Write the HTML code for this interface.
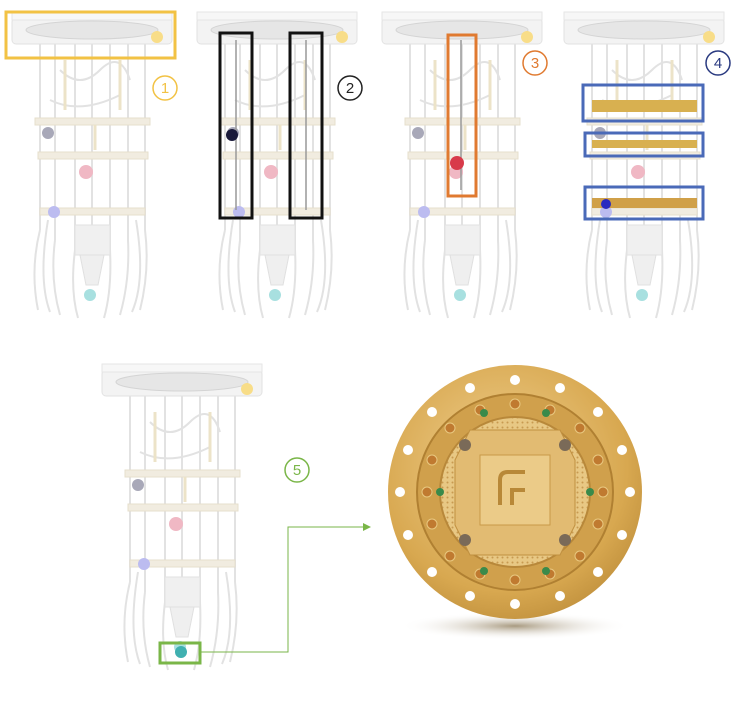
<!DOCTYPE html>
<html><head><meta charset="utf-8"><style>
html,body{margin:0;padding:0;background:#fff;}
svg{display:block;font-family:"Liberation Sans",sans-serif;}
</style></head><body>
<svg width="738" height="710" viewBox="0 0 738 710" xmlns="http://www.w3.org/2000/svg">
<defs>
<g id="cryo">
  <rect x="12" y="18" width="160" height="26" rx="4" fill="#f3f3f3" stroke="#e2e2e2"/>
  <ellipse cx="92" cy="30" rx="66" ry="9" fill="#e6e6e6" stroke="#d4d4d4"/>
  <rect x="12" y="12" width="160" height="8" fill="#f7f7f7" stroke="#e6e6e6"/>
  <g stroke="#e2e2e2" stroke-width="2" fill="none">
    <line x1="40" y1="44" x2="40" y2="230"/><line x1="55" y1="44" x2="55" y2="240"/>
    <line x1="75" y1="44" x2="75" y2="250"/><line x1="92" y1="44" x2="92" y2="260"/>
    <line x1="110" y1="44" x2="110" y2="250"/><line x1="128" y1="44" x2="128" y2="240"/>
    <line x1="145" y1="44" x2="145" y2="230"/>
    <path d="M40 230 Q30 270 38 310"/><path d="M55 240 Q50 280 60 315"/>
    <path d="M145 230 Q150 270 140 310"/><path d="M128 240 Q130 280 120 315"/>
    <path d="M75 250 Q70 290 78 318"/><path d="M110 250 Q112 290 104 318"/>
    <path d="M48 220 Q38 280 50 312"/><path d="M136 220 Q146 280 132 312"/>
    <path d="M60 70 q20 20 40 0 q20 -20 30 10"/><path d="M50 100 q30 15 70 -5"/>
  </g>
  <g fill="#f1ece0" stroke="#e6dfcc">
    <rect x="35" y="118" width="115" height="7"/>
    <rect x="38" y="152" width="110" height="7"/>
    <rect x="40" y="208" width="105" height="7"/>
  </g>
  <rect x="75" y="225" width="35" height="30" fill="#f0f0f0" stroke="#e2e2e2"/>
  <path d="M80 255 L104 255 L98 285 L86 285 Z" fill="#efefef" stroke="#e0e0e0"/>
  <g stroke="#ece3c8" stroke-width="3"><line x1="65" y1="60" x2="65" y2="110"/><line x1="120" y1="60" x2="120" y2="110"/><line x1="95" y1="125" x2="95" y2="150"/></g>
  <circle cx="157" cy="37" r="6" fill="#f8dd88"/>
  <circle cx="48" cy="133" r="6" fill="#a8a8b8"/>
  <circle cx="86" cy="172" r="7" fill="#f0b8c4"/>
  <circle cx="54" cy="212" r="6" fill="#bcbcf0"/>
  <circle cx="90" cy="295" r="6" fill="#a8e0e0"/>
</g>
<radialGradient id="gold" cx="0.45" cy="0.4" r="0.7">
  <stop offset="0" stop-color="#f0d090"/><stop offset="0.7" stop-color="#d8a850"/><stop offset="1" stop-color="#b88836"/>
</radialGradient>
<radialGradient id="shadow" cx="0.5" cy="0.5" r="0.5">
  <stop offset="0" stop-color="#a89a80"/><stop offset="1" stop-color="#ffffff" stop-opacity="0"/>
</radialGradient>
<pattern id="perf" width="5" height="5" patternUnits="userSpaceOnUse"><rect width="5" height="5" fill="#e8c884"/><circle cx="2.5" cy="2.5" r="1" fill="#c89a50"/></pattern>
<marker id="arr" markerWidth="8" markerHeight="8" refX="7" refY="4" orient="auto"><path d="M0 0 L8 4 L0 8 Z" fill="#7ab648"/></marker>
</defs>

<use href="#cryo" x="0" y="0"/>
<use href="#cryo" x="185" y="0"/>
<use href="#cryo" x="370" y="0"/>
<use href="#cryo" x="552" y="0"/>
<use href="#cryo" x="90" y="352"/>

<rect x="6" y="12" width="169" height="46" fill="none" stroke="#f2c244" stroke-width="3"/>
<rect x="220" y="33" width="32" height="185" fill="none" stroke="#111" stroke-width="3"/>
<rect x="290" y="33" width="32" height="185" fill="none" stroke="#111" stroke-width="3"/>
<g stroke="#999" stroke-width="1.5"><line x1="236" y1="40" x2="236" y2="210"/><line x1="306" y1="40" x2="306" y2="210"/><line x1="461" y1="40" x2="461" y2="190"/></g>
<circle cx="232" cy="135" r="6" fill="#1a1a3a"/>
<rect x="448" y="35" width="28" height="161" fill="none" stroke="#e07a30" stroke-width="3"/>
<circle cx="457" cy="163" r="7" fill="#d83a4a"/>
<rect x="583" y="85" width="120" height="36" fill="none" stroke="#4a6ab8" stroke-width="3"/>
<rect x="585" y="133" width="118" height="23" fill="none" stroke="#4a6ab8" stroke-width="3"/>
<rect x="585" y="187" width="118" height="32" fill="none" stroke="#4a6ab8" stroke-width="3"/>
<rect x="592" y="100" width="105" height="12" fill="#d8b050"/>
<rect x="592" y="140" width="105" height="8" fill="#d8b050"/>
<rect x="592" y="198" width="105" height="10" fill="#d0a048"/>
<circle cx="606" cy="204" r="5" fill="#2a2ac0"/>
<rect x="160" y="643" width="40" height="20" fill="none" stroke="#7ab648" stroke-width="3"/>
<circle cx="181" cy="652" r="6" fill="#40b0b0"/>

<g font-size="15" text-anchor="middle" fill="none" stroke-width="1.5">
  <circle cx="165" cy="88" r="12" stroke="#f2c244"/>
  <circle cx="350" cy="88" r="12" stroke="#222"/>
  <circle cx="535" cy="63" r="12" stroke="#e07a30"/>
  <circle cx="718" cy="63" r="12" stroke="#2a3a80"/>
  <circle cx="297" cy="470" r="12" stroke="#7ab648"/>
</g>
<g font-size="15" text-anchor="middle">
  <text x="165" y="93" fill="#f2c244">1</text>
  <text x="350" y="93" fill="#222">2</text>
  <text x="535" y="68" fill="#e07a30">3</text>
  <text x="718" y="68" fill="#2a3a80">4</text>
  <text x="297" y="475" fill="#7ab648">5</text>
</g>

<path d="M200 652 H288 V527 H370" fill="none" stroke="#7ab648" stroke-width="1" marker-end="url(#arr)"/>

<ellipse cx="515" cy="626" rx="115" ry="14" fill="url(#shadow)"/>
<circle cx="515" cy="492" r="127" fill="url(#gold)"/>
<g fill="#fff">
  <circle cx="515" cy="380" r="5"/><circle cx="560" cy="388" r="5"/><circle cx="598" cy="412" r="5"/>
  <circle cx="622" cy="450" r="5"/><circle cx="630" cy="492" r="5"/><circle cx="622" cy="535" r="5"/>
  <circle cx="598" cy="572" r="5"/><circle cx="560" cy="596" r="5"/><circle cx="515" cy="604" r="5"/>
  <circle cx="470" cy="596" r="5"/><circle cx="432" cy="572" r="5"/><circle cx="408" cy="535" r="5"/>
  <circle cx="400" cy="492" r="5"/><circle cx="408" cy="450" r="5"/><circle cx="432" cy="412" r="5"/>
  <circle cx="470" cy="388" r="5"/>
</g>
<circle cx="515" cy="492" r="98" fill="#d0a04c" stroke="#b08032" stroke-width="2"/>
<g fill="#c07a30" stroke="#e8c880">
  <circle cx="515" cy="404" r="5"/><circle cx="550" cy="410" r="5"/><circle cx="580" cy="428" r="5"/>
  <circle cx="598" cy="460" r="5"/><circle cx="603" cy="492" r="5"/><circle cx="598" cy="524" r="5"/>
  <circle cx="580" cy="556" r="5"/><circle cx="550" cy="574" r="5"/><circle cx="515" cy="580" r="5"/>
  <circle cx="480" cy="574" r="5"/><circle cx="450" cy="556" r="5"/><circle cx="432" cy="524" r="5"/>
  <circle cx="427" cy="492" r="5"/><circle cx="432" cy="460" r="5"/><circle cx="450" cy="428" r="5"/>
  <circle cx="480" cy="410" r="5"/>
</g>
<circle cx="515" cy="492" r="75" fill="url(#perf)" stroke="#b8883a" stroke-width="2"/>
<path d="M470 430 L560 430 L575 460 L575 525 L560 555 L470 555 L455 525 L455 460 Z" fill="#e2bb72" stroke="#c09040"/>
<rect x="480" y="455" width="70" height="70" fill="#ebcb88" stroke="#c89a48"/>
<path d="M500 505 V480 Q500 472 508 472 H525 M512 505 V490 H525" fill="none" stroke="#b88838" stroke-width="4"/>
<g fill="#7a6a58"><circle cx="465" cy="445" r="6"/><circle cx="565" cy="445" r="6"/><circle cx="465" cy="540" r="6"/><circle cx="565" cy="540" r="6"/></g>
<g fill="#3a8a4a"><circle cx="484" cy="413" r="4"/><circle cx="546" cy="413" r="4"/><circle cx="440" cy="492" r="4"/><circle cx="590" cy="492" r="4"/><circle cx="484" cy="571" r="4"/><circle cx="546" cy="571" r="4"/></g>
</svg>
</body></html>
